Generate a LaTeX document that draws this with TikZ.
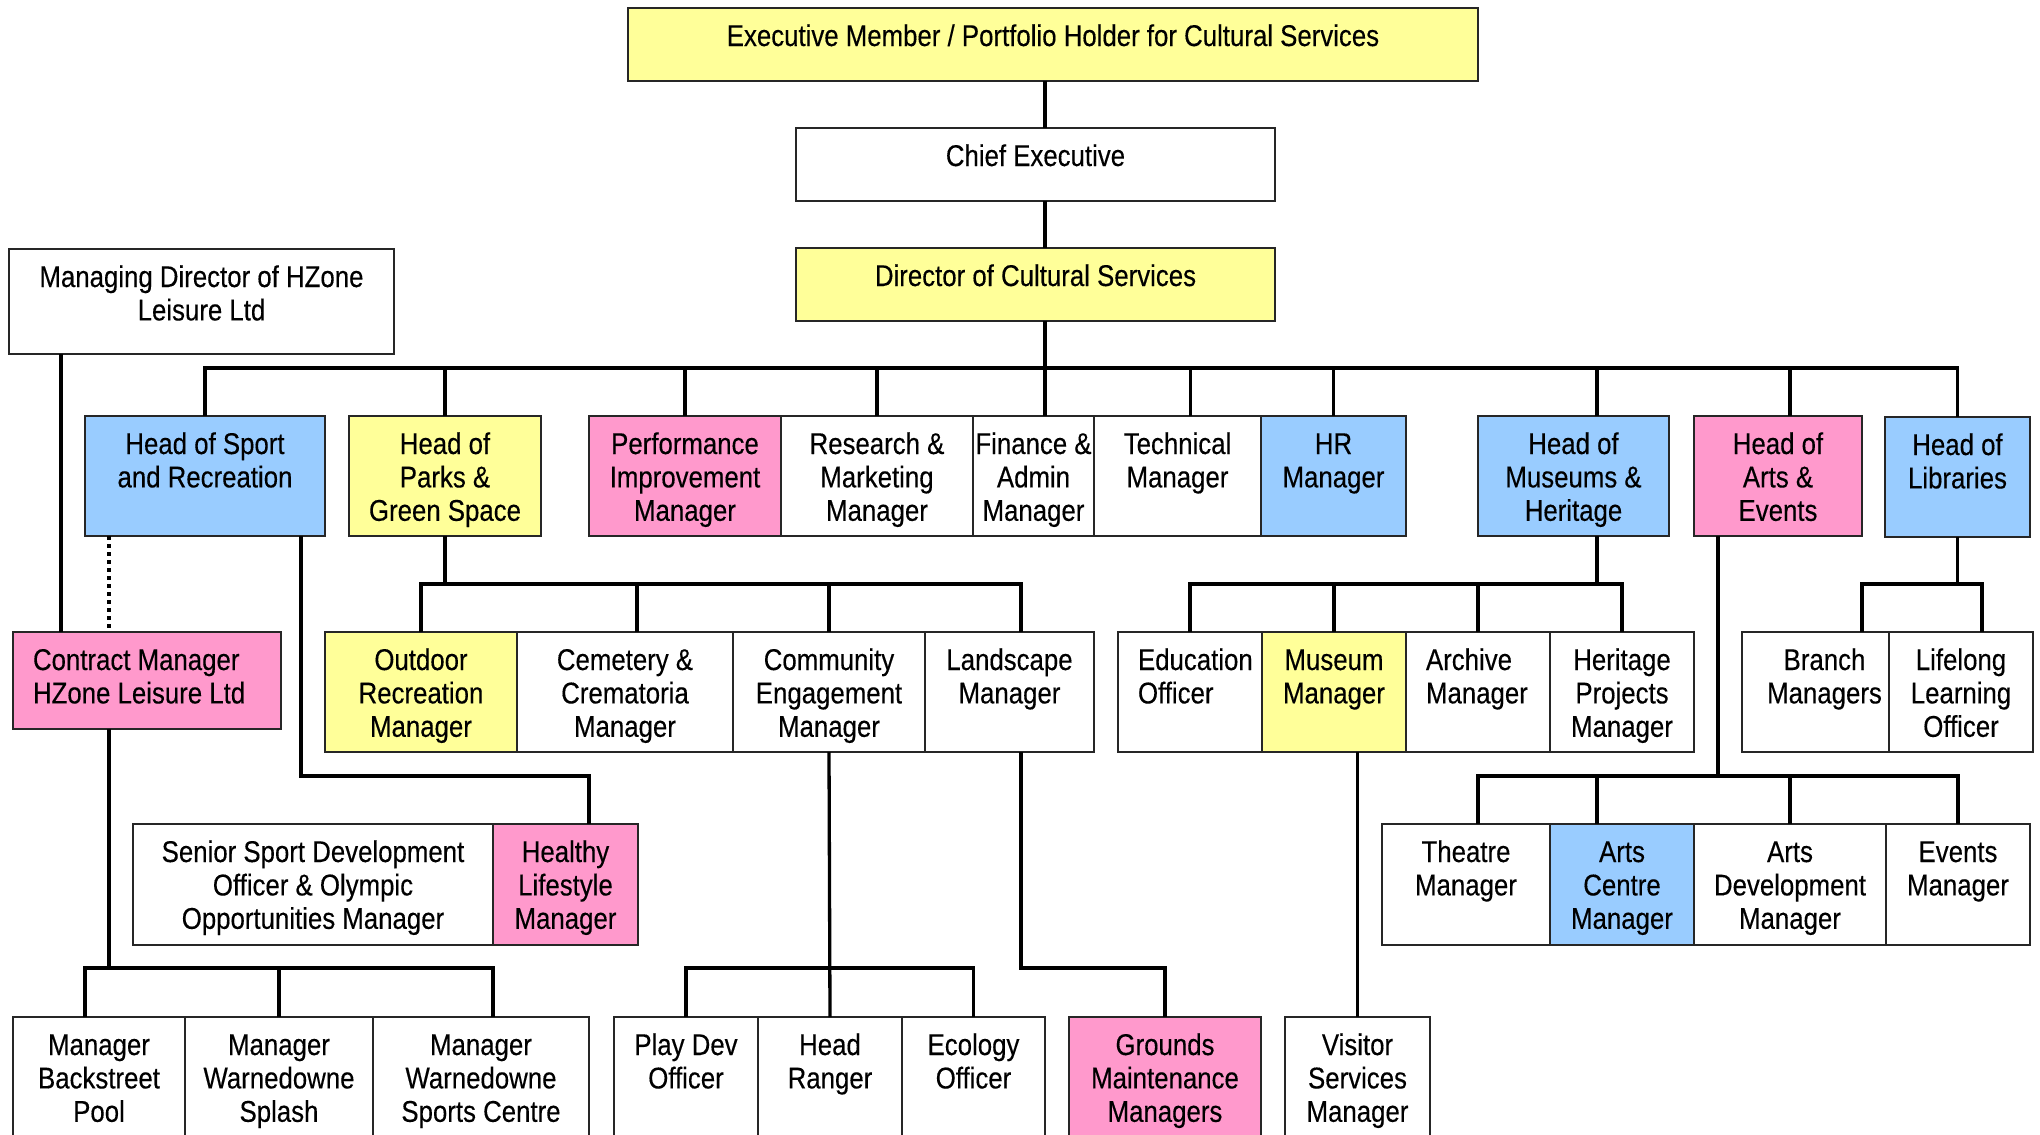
\documentclass[tikz,border=0pt]{standalone}
\usepackage{fontspec}
\setmainfont[FakeStretch=0.86,FakeBold=0.3]{Liberation Sans}
\usetikzlibrary{calc}
\definecolor{yel}{HTML}{FFFF99}
\definecolor{blu}{HTML}{99CCFF}
\definecolor{pnk}{HTML}{FF99CC}
\tikzset{
  ob/.style={draw=black!85, line width=2pt, inner sep=0pt, outer sep=0pt, anchor=north west},
  conn/.style={line width=3.3pt, black},
  dotline/.style={line width=3.5pt, black, dash pattern=on 3.5pt off 4.5pt}
}
\newcommand\obox[7]{\node[ob,fill=#6] (#1) at (#2,#3) {\parbox[c][\numexpr#5-#3\relax pt][t]{\numexpr#4-#2\relax pt}{\centering\rule{0pt}{38pt}#7\par}};}
\newcommand\oboxl[7]{\node[ob,fill=#6] (#1) at (#2,#3) {\parbox[c][\numexpr#5-#3\relax pt][t]{\numexpr#4-#2\relax pt}{\leftskip=20pt\rightskip=0pt plus 1fil\parindent=0pt\rule{0pt}{38pt}#7\par}};}
\begin{document}
\begin{tikzpicture}[x=1pt,y=-1pt,font=\fontsize{30}{33.4}\selectfont]
\useasboundingbox (0,0) rectangle (2040,1135);
\clip (0,0) rectangle (2040,1135);
% top chain
\obox{exec}{628}{8}{1478}{81}{yel}{Executive Member / Portfolio Holder for Cultural Services}
\obox{chief}{796}{128}{1275}{201}{white}{Chief Executive}
\obox{dir}{796}{248}{1275}{321}{yel}{Director of Cultural Services}
\obox{md}{9}{249}{394}{354}{white}{Managing Director of HZone\\Leisure Ltd}
% row 2
\obox{hsport}{85}{416}{325}{536}{blu}{Head of Sport\\and Recreation}
\obox{hparks}{349}{416}{541}{536}{yel}{Head of\\Parks \&\\Green Space}
\obox{perf}{589}{416}{781}{536}{pnk}{Performance\\Improvement\\Manager}
\obox{research}{781}{416}{973}{536}{white}{Research \&\\Marketing\\Manager}
\obox{finance}{973}{416}{1094}{536}{white}{Finance \&\\Admin\\Manager}
\obox{tech}{1094}{416}{1261}{536}{white}{Technical\\Manager}
\obox{hr}{1261}{416}{1406}{536}{blu}{HR\\Manager}
\obox{hmus}{1478}{416}{1669}{536}{blu}{Head of\\Museums \&\\Heritage}
\obox{harts}{1694}{416}{1862}{536}{pnk}{Head of\\Arts \&\\Events}
\obox{hlib}{1885}{417}{2030}{537}{blu}{Head of\\Libraries}
% row 3
\oboxl{contract}{13}{632}{281}{729}{pnk}{Contract Manager\\HZone Leisure Ltd}
\obox{outdoor}{325}{632}{517}{752}{yel}{Outdoor\\Recreation\\Manager}
\obox{cemetery}{517}{632}{733}{752}{white}{Cemetery \&\\Crematoria\\Manager}
\obox{community}{733}{632}{925}{752}{white}{Community\\Engagement\\Manager}
\obox{landscape}{925}{632}{1094}{752}{white}{Landscape\\Manager}
\oboxl{education}{1118}{632}{1262}{752}{white}{Education\\Officer}
\obox{museum}{1262}{632}{1406}{752}{yel}{Museum\\Manager}
\oboxl{archive}{1406}{632}{1550}{752}{white}{Archive\\Manager}
\obox{heritage}{1550}{632}{1694}{752}{white}{Heritage\\Projects\\Manager}
\obox{branch}{1742}{632}{1889}{752}{white}{\hspace*{18pt}Branch\\\hspace*{18pt}Managers}
\obox{lifelong}{1889}{632}{2033}{752}{white}{Lifelong\\Learning\\Officer}
% row 4
\obox{senior}{133}{824}{493}{945}{white}{Senior Sport Development\\Officer \& Olympic\\Opportunities Manager}
\obox{healthy}{493}{824}{638}{945}{pnk}{Healthy\\Lifestyle\\Manager}
\obox{theatre}{1382}{824}{1550}{945}{white}{Theatre\\Manager}
\obox{artscentre}{1550}{824}{1694}{945}{blu}{Arts\\Centre\\Manager}
\obox{artsdev}{1694}{824}{1886}{945}{white}{Arts\\Development\\Manager}
\obox{events}{1886}{824}{2030}{945}{white}{Events\\Manager}
% row 5
\obox{backstreet}{13}{1017}{185}{1150}{white}{Manager\\Backstreet\\Pool}
\obox{splash}{185}{1017}{373}{1150}{white}{Manager\\Warnedowne\\Splash}
\obox{sportscentre}{373}{1017}{589}{1150}{white}{Manager\\Warnedowne\\Sports Centre}
\obox{playdev}{614}{1017}{758}{1150}{white}{Play Dev\\Officer}
\obox{ranger}{758}{1017}{902}{1150}{white}{Head\\Ranger}
\obox{ecology}{902}{1017}{1045}{1150}{white}{Ecology\\Officer}
\obox{grounds}{1069}{1017}{1261}{1150}{pnk}{Grounds\\Maintenance\\Managers}
\obox{visitor}{1285}{1017}{1430}{1150}{white}{Visitor\\Services\\Manager}
% named helper coordinates
\coordinate (spine) at (1045,0);
\coordinate (busA) at (0,368);
\coordinate (busP) at (0,584);
\coordinate (busS) at (0,776);
\coordinate (busC) at (0,968);
% spine
\draw[conn] (exec.south -| spine) -- (chief.north -| spine);
\draw[conn] (chief.south -| spine) -- (dir.north -| spine);
\draw[conn] (dir.south -| spine) -- (finance.north -| spine);
% main bus
\draw[conn] (hsport.north) |- (busA -| hlib.north) -- (hlib.north);
\foreach \n in {hparks,perf,research,hr} \draw[conn] (\n.north) -- (\n.north |- busA);
\coordinate (tcx) at ($(tech.north)+(13,0)$);
\draw[conn] (tcx) -- (tcx |- busA);
\coordinate (hmtx) at ($(hmus.north)+(23.5,0)$);
\draw[conn] (hmtx) -- (hmtx |- busA);
\coordinate (hatx) at ($(harts.north)+(12,0)$);
\draw[conn] (hatx) -- (hatx |- busA);
% managing director -> contract manager
\coordinate (mdx) at ($(md.south)+(-140.5,0)$);
\draw[conn] (mdx) -- (mdx |- contract.north);
\coordinate (dotx) at ($(hsport.south)+(-96,0)$);
\draw[dotline] (dotx) -- (dotx |- contract.north);
% parks
\draw[conn] (hparks.south) -- (hparks.south |- busP);
\coordinate (lstx) at ($(landscape.north)+(11.5,0)$);
\draw[conn] (outdoor.north) |- (lstx |- busP) -- (lstx);
\coordinate (cemx) at ($(cemetery.north)+(12,0)$);
\draw[conn] (cemx) -- (cemx |- busP);
\draw[conn] (community.north) -- (community.north |- busP);
% sport
\coordinate (hsx) at ($(hsport.south)+(96,0)$);
\coordinate (hlx) at ($(healthy.north)+(23.5,0)$);
\draw[conn] (hsx) |- (hlx |- busS) -- (hlx);
% contract manager
\coordinate (cmx) at ($(contract.south)+(-38,0)$);
\draw[conn] (cmx) -- (cmx |- busC);
\coordinate (bsx) at ($(backstreet.north)+(-14,0)$);
\coordinate (scx) at ($(sportscentre.north)+(12,0)$);
\draw[conn] (bsx) |- (scx |- busC) -- (scx);
\draw[conn] (splash.north) -- (splash.north |- busC);
% community
\draw[conn] (community.south) -- (ranger.north);
\draw[conn] (playdev.north) |- (ecology.north |- busC) -- (ecology.north);
% landscape
\coordinate (lsx) at ($(landscape.south)+(11.5,0)$);
\draw[conn] (lsx) |- (grounds.north |- busC) -- (grounds.north);
% museum manager
\draw[conn] (visitor.north |- museum.south) -- (visitor.north);
% museums
\coordinate (hmx) at ($(hmus.south)+(23.5,0)$);
\draw[conn] (hmx) -- (hmx |- busP);
\draw[conn] (education.north) |- (heritage.north |- busP) -- (heritage.north);
\draw[conn] (museum.north) -- (museum.north |- busP);
\draw[conn] (archive.north) -- (archive.north |- busP);
% arts
\coordinate (hax) at ($(harts.south)+(-60,0)$);
\draw[conn] (hax) -- (hax |- busS);
\coordinate (thx) at ($(theatre.north)+(12,0)$);
\draw[conn] (thx) |- (events.north |- busS) -- (events.north);
\coordinate (acx) at ($(artscentre.north)+(-25,0)$);
\draw[conn] (acx) -- (acx |- busS);
\draw[conn] (artsdev.north) -- (artsdev.north |- busS);
% libraries
\draw[conn] (hlib.south) -- (hlib.south |- busP);
\coordinate (brx) at ($(branch.north)+(46.5,0)$);
\coordinate (llx) at ($(lifelong.north)+(21,0)$);
\draw[conn] (brx) |- (llx |- busP) -- (llx);
\end{tikzpicture}
\end{document}
